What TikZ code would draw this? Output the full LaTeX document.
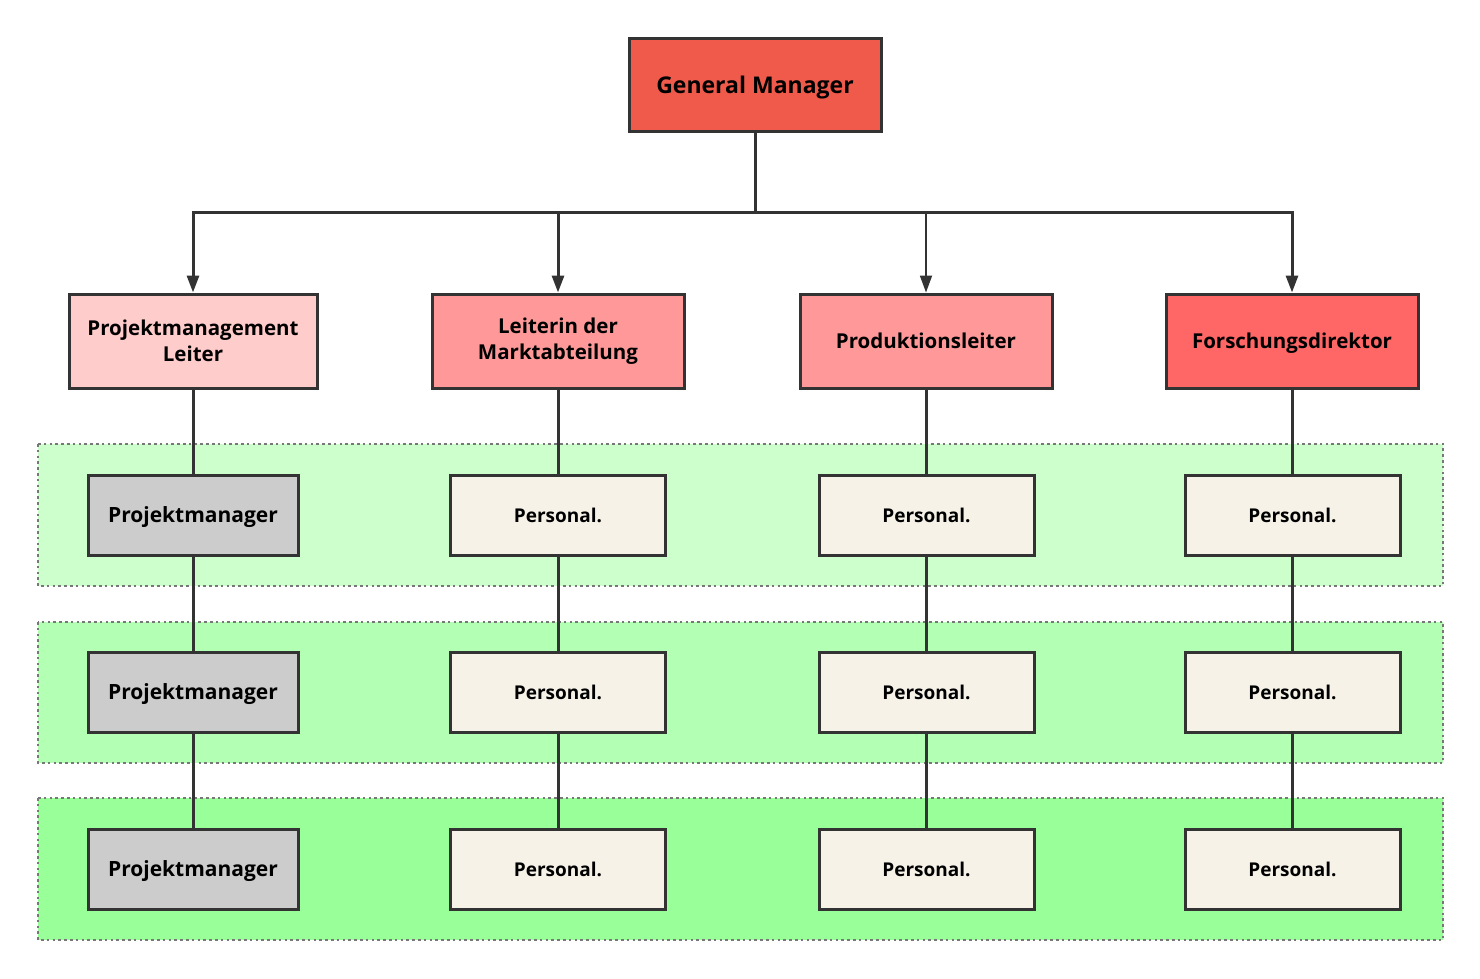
\documentclass[tikz,border=0pt]{standalone}
\usepackage{fontspec}
\setmainfont{Open Sans}
\usetikzlibrary{arrows.meta}
\definecolor{linec}{HTML}{333333}
\definecolor{gmc}{HTML}{F05A4A}
\definecolor{pinkA}{HTML}{FFCCCC}
\definecolor{pinkB}{HTML}{FF9999}
\definecolor{pinkC}{HTML}{FF6666}
\definecolor{grayc}{HTML}{CCCCCC}
\definecolor{creamc}{HTML}{F6F2E8}
\definecolor{bandA}{HTML}{CCFFCC}
\definecolor{bandB}{HTML}{B3FFB3}
\definecolor{bandC}{HTML}{99FF99}
\definecolor{dotc}{HTML}{777777}
\tikzset{
  box/.style={draw=linec, line width=3pt, rectangle, inner sep=0pt, align=center, font=\bfseries},
  oneline/.style={text depth=0pt},
  gmbox/.style={box, oneline, fill=gmc, minimum width=252pt, minimum height=93pt, font=\bfseries\fontsize{23}{27}\selectfont},
  lvbox/.style={box, minimum width=252pt, minimum height=94pt, font=\bfseries\fontsize{20.5}{26}\selectfont},
  pmbox/.style={box, oneline, fill=grayc, minimum width=210pt, minimum height=80pt, font=\bfseries\fontsize{21}{24}\selectfont},
  psbox/.style={box, oneline, fill=creamc, minimum width=215pt, minimum height=80pt, font=\bfseries\fontsize{19}{22}\selectfont},
  band/.style={draw=dotc, line width=2.5pt, dash pattern=on 2.6pt off 3.2pt},
  conn/.style={draw=linec, line width=3pt},
  arr/.style={conn, -{Triangle[length=17pt,width=12pt]}}
}
\begin{document}
\begin{tikzpicture}[x=1pt,y=-1pt]
\useasboundingbox (0,0) rectangle (1480,978);
\fill[white] (0,0) rectangle (1480,978);
% bands
\path[band, fill=bandA] (38,444) rectangle (1443,586);
\path[band, fill=bandB] (38,622) rectangle (1443,763);
\path[band, fill=bandC] (38,798) rectangle (1443,940);
% top
\node[gmbox] (gm) at (755,84.5) {General Manager};
\node[lvbox, fill=pinkA, minimum width=248pt] (l1) at (193,341) {Projektmanagement\\[0pt]Leiter};
\node[lvbox, fill=pinkB] (l2) at (558,341) {Leiterin der\\[0pt]Marktabteilung};
\node[lvbox, oneline, fill=pinkB] (l3) at (926,341) {Produktionsleiter};
\node[lvbox, oneline, fill=pinkC] (l4) at (1292,341) {Forschungsdirektor};
% rows
\foreach \r/\y in {1/515,2/692,3/869}{
  \node[pmbox] (a\r) at (193,\y) {Projektmanager};
  \node[psbox] (b\r) at (558,\y) {Personal.};
  \node[psbox] (c\r) at (926.5,\y) {Personal.};
  \node[psbox] (d\r) at (1292.5,\y) {Personal.};
}
% bus
\coordinate (bus) at (755,212.5);
\coordinate (j1) at (193,212.5);
\coordinate (j2) at (558,212.5);
\coordinate (j3) at (926,212.5);
\coordinate (j4) at (1292,212.5);
\draw[conn] (gm.south) -- (bus);
\draw[conn, line cap=rect] (j1) -- (j4);
\draw[arr] (j1) -- (l1.north);
\draw[arr] (j2) -- (l2.north);
\draw[arr, line width=1.8pt] (j3) -- (l3.north);
\draw[arr] (j4) -- (l4.north);
% verticals
\draw[conn] (l1.south) -- (a1.north);
\draw[conn] (a1.south) -- (a2.north);
\draw[conn] (a2.south) -- (a3.north);
\draw[conn] (l2.south) -- (b1.north);
\draw[conn] (b1.south) -- (b2.north);
\draw[conn] (b2.south) -- (b3.north);
\draw[conn] (l3.south) -- (l3.south |- c1.north);
\draw[conn] (c1.south -| l3.south) -- (l3.south |- c2.north);
\draw[conn] (c2.south -| l3.south) -- (l3.south |- c3.north);
\draw[conn] (l4.south) -- (l4.south |- d1.north);
\draw[conn] (d1.south -| l4.south) -- (l4.south |- d2.north);
\draw[conn] (d2.south -| l4.south) -- (l4.south |- d3.north);
\end{tikzpicture}
\end{document}
